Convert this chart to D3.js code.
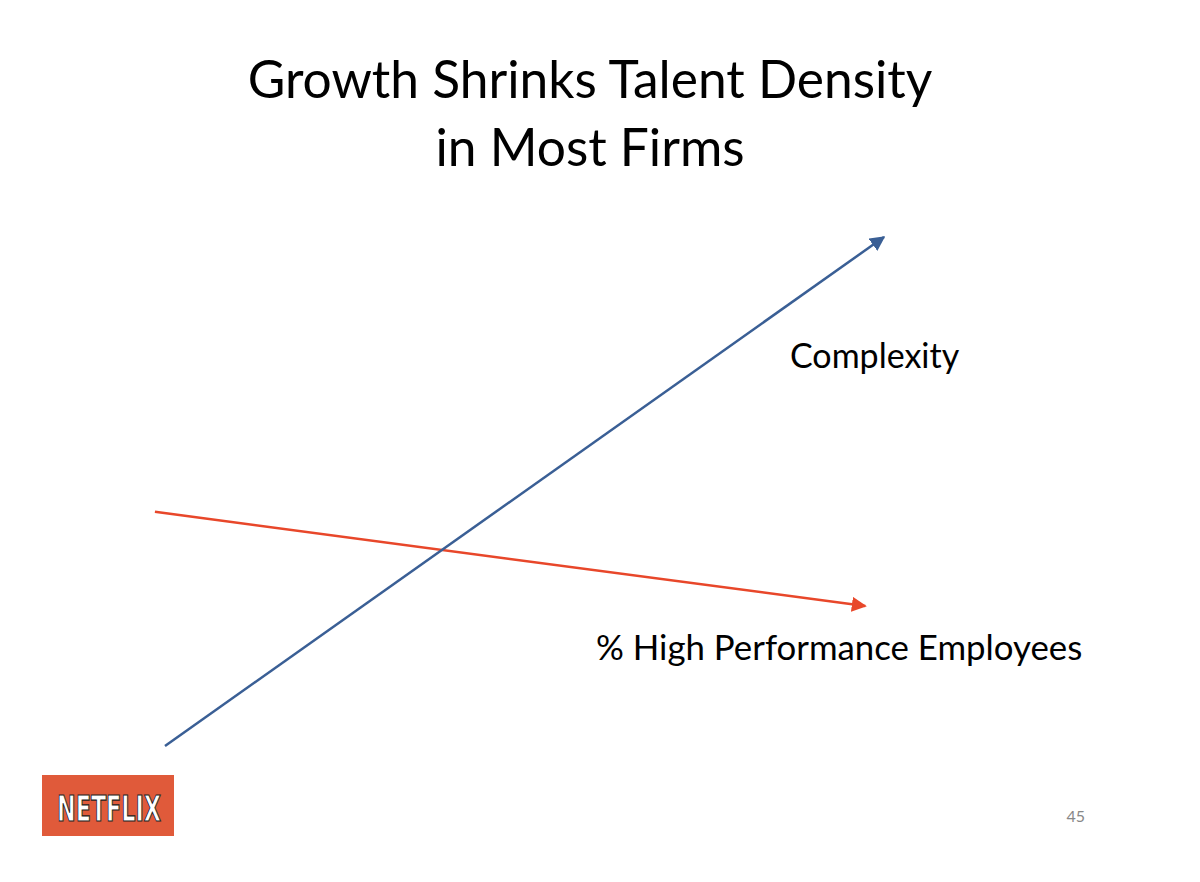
<!DOCTYPE html><html><head><meta charset="utf-8"><script src="https://cdn.jsdelivr.net/npm/d3@7"></script>
<style>body{margin:0;background:#fff}text{font-family:Lato,"Open Sans",sans-serif}</style></head><body><svg id="c" width="1200" height="882"></svg>
<script>
const seriesNames=["Complexity","% High Performance Employees"];
const complexity=[{t:0,v:0},{t:100,v:100}];
const highPerf=[{t:-1.4,v:46},{t:97.4,v:27.5}];
const titleLines=["Growth Shrinks Talent Density","in Most Firms"];
const svg=d3.select("#c");
const x=d3.scaleLinear().domain([0,100]).range([165,884]);
const y=d3.scaleLinear().domain([0,100]).range([746,237]);
const defs=svg.append("defs");
[["b","#3A5F95"],["r","#E8472A"]].forEach(([id,c])=>defs.append("marker").attr("id",id).attr("viewBox","0 0 10 10").attr("refX",9).attr("refY",5).attr("markerWidth",6).attr("markerHeight",6).attr("orient","auto").attr("markerUnits","strokeWidth").append("path").attr("d","M0,0L10,5L0,10z").attr("fill",c));
const line=d3.line().x(d=>x(d.t)).y(d=>y(d.v));
svg.append("path").datum(highPerf).attr("d",line).attr("stroke","#E8472A").attr("stroke-width",2.5).attr("fill","none").attr("marker-end","url(#r)");
svg.append("path").datum(complexity).attr("d",line).attr("stroke","#3A5F95").attr("stroke-width",2.5).attr("fill","none").attr("marker-end","url(#b)");
svg.selectAll(".t").data(titleLines).join("text").attr("x",590).attr("y",(d,i)=>98+i*68).attr("text-anchor","middle").attr("font-size",51.5).text(d=>d);
svg.append("text").attr("x",790).attr("y",368).attr("font-size",34).text(seriesNames[0]);
svg.append("text").attr("x",596).attr("y",660).attr("font-size",34.8).text(seriesNames[1]);
svg.append("text").attr("x",1085).attr("y",822).attr("text-anchor","end").attr("font-size",16).attr("fill","#888").text("45");
svg.append("rect").attr("x",42).attr("y",775).attr("width",132).attr("height",61).attr("fill","#E05A3A");
svg.append("text").attr("x",109).attr("y",821).attr("text-anchor","middle").attr("font-size",36).attr("font-weight","bold").attr("fill","#fff").attr("stroke","#222").attr("stroke-width",1.2).attr("textLength",104).attr("lengthAdjust","spacingAndGlyphs").style("font-family","'DejaVu Sans Condensed','Liberation Sans Narrow',sans-serif").text("NETFLIX");
</script></body></html>
